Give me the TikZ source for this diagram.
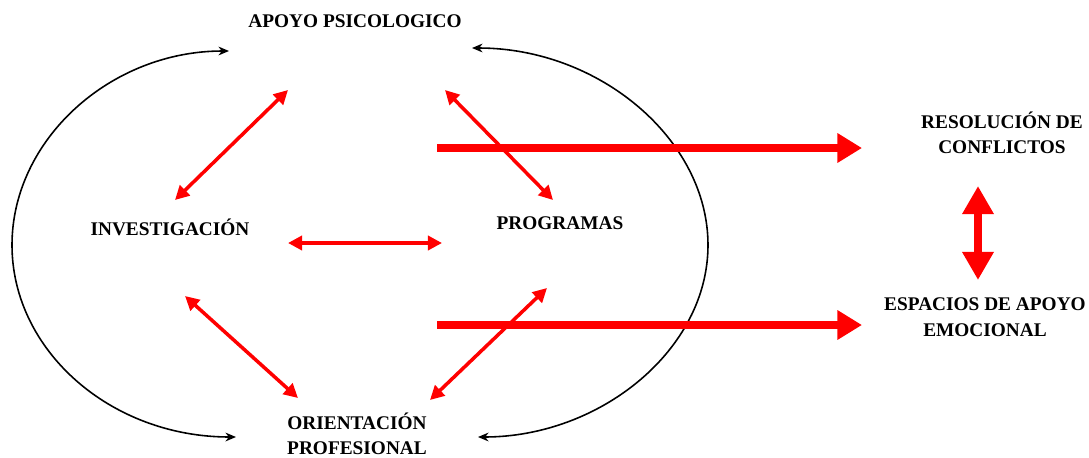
\documentclass[tikz,border=0pt]{standalone}
\usepackage{fontspec}
\setmainfont{Liberation Serif}
\usetikzlibrary{arrows.meta}

\begin{document}
\begin{tikzpicture}[x=0.02cm,y=-0.02cm,
  lbl/.style={font=\fontsize{11pt}{14.5pt}\selectfont\bfseries,align=center,inner sep=1pt},
  loopline/.style={black,line width=0.9pt,{Stealth[length=6pt,width=5pt]}-{Stealth[length=6pt,width=5pt]}},
  redarr/.style={red,line width=2pt,{Triangle[length=8pt,width=8pt]}-{Triangle[length=8pt,width=8pt]}},
  bigarr/.style={red,line width=4pt,-{Triangle[length=14pt,width=16pt]}},
  bigboth/.style={red,line width=4.5pt,{Triangle[length=16pt,width=17pt]}-{Triangle[length=16pt,width=17pt]}}]
\useasboundingbox (0,0) rectangle (1089,457);
% labels
\node[lbl] (apoyo) at (355,21) {APOYO PSICOLOGICO};
\node[lbl] (inv) at (170,227) {INVESTIGACIÓN};
\node[lbl] (prog) at (560,223) {PROGRAMAS};
\node[lbl] (orient) at (357,434) {ORIENTACIÓN\\PROFESIONAL};
\node[lbl] (res) at (1002,133) {RESOLUCIÓN DE\\CONFLICTOS};
\node[lbl] (esp) at (985,317) {ESPACIOS DE APOYO\\EMOCIONAL};
% end points of the arrows
\coordinate (ap1) at (288,90);   \coordinate (ap2) at (445,90);
\coordinate (in1) at (175,200);  \coordinate (in2) at (288,243);
\coordinate (in3) at (185,296);  \coordinate (pr1) at (553,200);
\coordinate (pr2) at (442,243);  \coordinate (pr3) at (547,288);
\coordinate (or1) at (298,398);  \coordinate (or2) at (430,400);
\coordinate (st1) at (437,148);  \coordinate (st2) at (437,325);
\coordinate (en1) at (862,148);  \coordinate (en2) at (862,325);
\coordinate (up) at (978,186);   \coordinate (dn) at (978,280);
% black loops
\draw[loopline] (229,51) .. controls (110,51) and (12,140) .. (12,245)
                .. controls (12,350) and (110,437) .. (236,437);
\draw[loopline] (472,48) .. controls (600,48) and (708,140) .. (708,245)
                .. controls (708,350) and (600,437) .. (478,437);
% red double arrows
\draw[redarr] (ap1) -- (in1);
\draw[redarr] (ap2) -- (pr1);
\draw[redarr] (in2) -- (pr2);
\draw[redarr] (in3) -- (or1);
\draw[redarr] (pr3) -- (or2);
% thick arrows
\draw[bigarr] (st1) -- (en1);
\draw[bigarr] (st2) -- (en2);
\draw[bigboth] (up) -- (dn);
\end{tikzpicture}
\end{document}
